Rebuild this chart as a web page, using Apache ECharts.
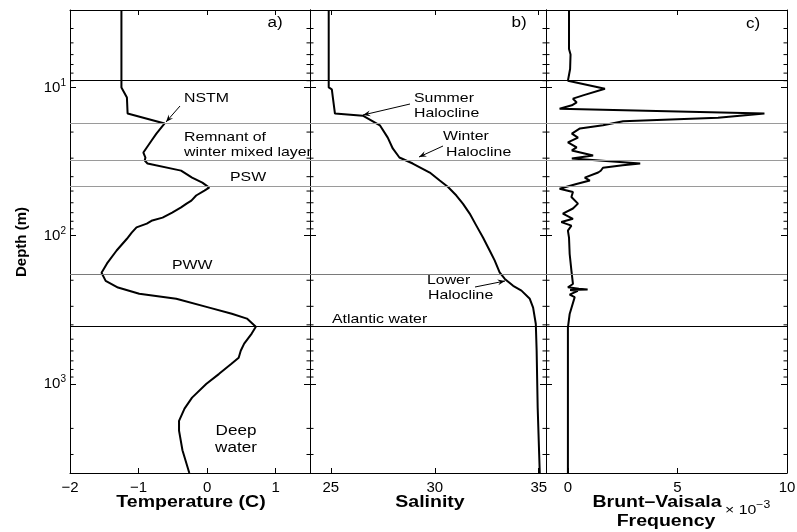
<!DOCTYPE html>
<html>
<head>
<meta charset="utf-8">
<script src="https://cdn.jsdelivr.net/npm/echarts@6/dist/echarts.min.js"></script>
<style>
  html, body { margin: 0; padding: 0; background: #fff; }
  #main { width: 797px; height: 532px; }
</style>
</head>
<body>
<div id="main"></div>
<script>
// 深度轴 (对数, 向下)
var depthMin = 3, depthMax = 4000;

// a) 温度剖面
var tempDepth = [3, 10, 10.3, 11.7, 15.0, 17.5, 20.5, 22.8, 25.4, 27.5, 29.7, 31.1, 32.6, 36.4, 40.6, 43.9, 47.4,
  49.7, 53.6, 58, 60.8, 64.5, 69.9, 75.6, 79, 83, 88, 95.5, 105, 126, 154, 178, 202, 224, 247, 267, 306, 337, 363,
  412, 458, 536, 598, 667, 736, 860, 1000, 1240, 1470, 1780, 2070, 2810, 4000];
var tempValue = [-1.25, -1.25, -1.23, -1.17, -1.16, -0.62, -0.74, -0.81, -0.88, -0.93, -0.90, -0.91, -0.87, -0.38, -0.22, -0.07, 0.03,
  -0.04, -0.16, -0.23, -0.30, -0.38, -0.51, -0.65, -0.80, -0.88, -1.03, -1.10, -1.17, -1.32, -1.46, -1.54, -1.48, -1.30, -0.99, -0.45, 0.03, 0.36, 0.58,
  0.71, 0.65, 0.54, 0.49, 0.46, 0.35, 0.17, -0.01, -0.22, -0.33, -0.41, -0.41, -0.36, -0.26];

// b) 盐度剖面
var salDepth = [3, 10, 10.3, 11.7, 15.0, 15.5, 18, 21.8, 25.8, 29.7, 32.6, 37.5, 42.5, 47, 53.6, 61, 71, 85.6, 103,
  126, 147, 177, 196, 218, 235, 267, 306, 395, 598, 1450, 4000];
var salValue = [24.9, 24.9, 25.05, 25.1, 25.2, 26.54, 27.36, 27.74, 27.98, 28.3, 28.94, 29.76, 30.24, 30.64, 31.04, 31.36, 31.68, 32.0, 32.32,
  32.64, 32.88, 33.12, 33.37, 33.77, 34.17, 34.57, 34.73, 34.86, 34.9, 34.95, 35.05];

// c) 浮力频率 (x 10^-3)
var bvDepth = [3, 5.5, 6, 7.5, 9, 10.2, 11.3, 11.9, 12.6, 13.2, 13.9, 15.0, 16.0, 16.9, 18.0, 18.9, 20.5, 21.8, 23.5,
  25.4, 26.6, 28.8, 30.2, 32.6, 33.5, 34.8, 36.5, 37.5, 40.6, 42.5, 44.8, 48.3, 50.8, 54.8, 60.8, 65.6, 71, 77, 81,
  85.6, 92.5, 103, 133, 172, 212, 223, 228, 231, 233, 236, 250, 260, 338, 418, 598, 4000];
var bvValue = [0.05, 0.05, 0.12, 0.1, 0.0, 1.69, 0.69, 0.23, 0.4, 0.18, -0.38, 8.97, 6.85, 2.52, 1.6, 0.55, 0.18, 0.46, 0.0,
  0.4, 0.18, 1.15, 0.18, 3.3, 2.5, 1.6, 1.5, 1.38, 0.77, 1.0, 0.39, -0.38, 0.23, 0.16, 0.46, 0.23, -0.23, 0.23, -0.3,
  0.16, 0.0, 0.05, 0.08, 0.16, 0.23, 0.0, 0.5, 0.9, 0.1, 0.45, 0.08, 0.31, 0.08, 0.0, 0.0, 0.0];

// 水层分界线
var layerDepth = [9, 17.4, 31, 46.4, 181, 412];
var layerColor = ['#000', '#9a9a9a', '#9a9a9a', '#9a9a9a', '#7a7a7a', '#000'];

// 刻度
var tempTicks = [-2, -1, 0, 1];
var salTicks = [25, 30, 35];
var bvTicks = [0, 5, 10];

var FONT = 'Liberation Sans, Arial, Helvetica, sans-serif';

function zip(xs, ys) {
  return xs.map(function (x, i) { return [x, ys[i]]; });
}

function fmtMinus(v) {
  return v < 0 ? '\u2212' + (-v) : String(v);
}

function fmtPow(v) {
  var e = Math.round(Math.log10(v));
  if (Math.abs(Math.pow(10, e) - v) > 1e-6 * v) return '';
  return '10{sup|' + e + '}';
}

var grids = [
  { left: 70, top: 10, width: 240, height: 463 },
  { left: 310, top: 10, width: 236, height: 463 },
  { left: 546, top: 10, width: 241, height: 463 }
];
grids.forEach(function (g) { g.outerBoundsMode = 'none'; g.containLabel = false; });

var xRanges = [[-2, 1.5, tempTicks], [24, 35.35, salTicks], [-1, 10, bvTicks]];

var xAxes = [];
xRanges.forEach(function (r, gi) {
  ['bottom', 'top'].forEach(function (pos) {
    xAxes.push({
      type: 'value', gridIndex: gi, position: pos, min: r[0], max: r[1],
      axisLine: { show: true, onZero: false, lineStyle: { color: '#000', width: 1 } },
      axisTick: { show: true, inside: true, length: 5, customValues: r[2], lineStyle: { color: '#000' } },
      axisLabel: {
        show: pos === 'bottom', customValues: r[2], formatter: fmtMinus,
        color: '#000', fontSize: 15, margin: 7, fontFamily: FONT
      },
      splitLine: { show: false }
    });
  });
});

var yAxes = [];
grids.forEach(function (g, gi) {
  ['left', 'right'].forEach(function (pos) {
    yAxes.push({
      type: 'log', logBase: 10, gridIndex: gi, position: pos, min: depthMin, max: depthMax, inverse: true,
      axisLine: { show: true, onZero: false, lineStyle: { color: '#000', width: 1 } },
      axisTick: { show: true, inside: true, length: 6, lineStyle: { color: '#000' } },
      axisLabel: {
        show: gi === 0 && pos === 'left', formatter: fmtPow, color: '#000', fontSize: 15, margin: 4,
        fontFamily: FONT,
        rich: { sup: { fontSize: 10, fontFamily: FONT, color: '#000', padding: [0, 0, 9, 0] } }
      },
      splitLine: { show: false },
      minorTick: { show: false }
    });
  });
});

var layerLines = {
  silent: true, symbol: 'none', label: { show: false }, animation: false,
  data: layerDepth.map(function (d, i) {
    return { yAxis: d, lineStyle: { color: layerColor[i], width: 1, type: 'solid' } };
  })
};

function profile(gi, xs, ys) {
  return {
    type: 'line', xAxisIndex: gi * 2, yAxisIndex: gi * 2, data: zip(xs, ys),
    symbol: 'none', showSymbol: false, smooth: false, z: 3,
    lineStyle: { color: '#000', width: 2 },
    markLine: layerLines
  };
}

var myChart = echarts.init(document.getElementById('main'), null, { renderer: 'canvas' });

var option = {
  animation: false,
  backgroundColor: '#fff',
  grid: grids,
  xAxis: xAxes,
  yAxis: yAxes,
  series: [
    profile(0, tempValue, tempDepth),
    profile(1, salValue, salDepth),
    profile(2, bvValue, bvDepth)
  ]
};
myChart.setOption(option);

// 次刻度 + 注释
var gfx = [];
var minorVals = [];
[1, 10, 100, 1000].forEach(function (b) {
  for (var k = 2; k <= 9; k++) {
    var v = k * b;
    if (v > depthMin && v < depthMax) minorVals.push(v);
  }
});
grids.forEach(function (g, gi) {
  minorVals.forEach(function (v) {
    var py = myChart.convertToPixel({ yAxisIndex: gi * 2 }, v);
    gfx.push({ type: 'line', shape: { x1: g.left, y1: py, x2: g.left + 3.5, y2: py }, style: { stroke: '#000', lineWidth: 1 }, silent: true });
    gfx.push({ type: 'line', shape: { x1: g.left + g.width, y1: py, x2: g.left + g.width - 3.5, y2: py }, style: { stroke: '#000', lineWidth: 1 }, silent: true });
  });
});

var SX = 1.22;
function txt(x, y, s, size, align, bold) {
  gfx.push({
    type: 'text', x: x, y: y, scaleX: SX, silent: true, z: 10,
    style: {
      text: s, fill: '#000', font: (bold ? 'bold ' : '') + size + 'px ' + FONT,
      textAlign: align || 'left', textVerticalAlign: 'middle'
    }
  });
}
function arrow(x1, y1, x2, y2) {
  var a = Math.atan2(y2 - y1, x2 - x1), L = 8, w = 0.38;
  gfx.push({ type: 'line', shape: { x1: x1, y1: y1, x2: x2, y2: y2 }, style: { stroke: '#000', lineWidth: 1 }, silent: true, z: 10 });
  gfx.push({
    type: 'polygon', silent: true, z: 10,
    shape: { points: [[x2, y2], [x2 - L * Math.cos(a - w), y2 - L * Math.sin(a - w)], [x2 - L * 0.6 * Math.cos(a), y2 - L * 0.6 * Math.sin(a)], [x2 - L * Math.cos(a + w), y2 - L * Math.sin(a + w)]] },
    style: { fill: '#000' }
  });
}

// 面板标号
txt(275, 23, 'a)', 14, 'center');
txt(519, 23, 'b)', 14, 'center');
txt(753, 24, 'c)', 14, 'center');

// a) 注释
txt(184, 98, 'NSTM', 13);
arrow(180, 106, 166, 122);
txt(184, 137, 'Remnant of', 13);
txt(184, 152, 'winter mixed layer', 13);
txt(230, 177, 'PSW', 13);
txt(172, 265, 'PWW', 13);
txt(332, 319, 'Atlantic water', 13);
txt(236, 431, 'Deep', 14, 'center');
txt(236, 448, 'water', 14, 'center');

// b) 注释
txt(414, 98, 'Summer', 13);
txt(414, 113, 'Halocline', 13);
arrow(410, 104, 363, 115);
txt(443, 136, 'Winter', 13);
txt(446, 152, 'Halocline', 13);
arrow(443, 146, 419, 157);
txt(427, 280, 'Lower', 13);
txt(428, 295, 'Halocline', 13);
arrow(475, 287, 505, 281);

// 轴标题
txt(191, 503, 'Temperature (C)', 16, 'center', true);
txt(430, 503, 'Salinity', 16, 'center', true);
txt(657, 503, 'Brunt\u2013Vaisala', 16, 'center', true);
txt(666, 522, 'Frequency', 16, 'center', true);
gfx.push({
  type: 'text', x: 725, y: 510, scaleX: SX, silent: true, z: 10,
  style: {
    text: '\u00d7 10{sup|\u22123}', fill: '#000', font: '13px ' + FONT, textVerticalAlign: 'middle',
    rich: { sup: { fontSize: 10, fontFamily: FONT, fill: '#000', padding: [0, 0, 9, 0] } }
  }
});
gfx.push({
  type: 'text', x: 22, y: 242, rotation: Math.PI / 2, silent: true, z: 10,
  style: { text: 'Depth (m)', fill: '#000', font: 'bold 15px ' + FONT, textAlign: 'center', textVerticalAlign: 'middle' }
});

myChart.setOption({ graphic: { elements: gfx } });
</script>
</body>
</html>
